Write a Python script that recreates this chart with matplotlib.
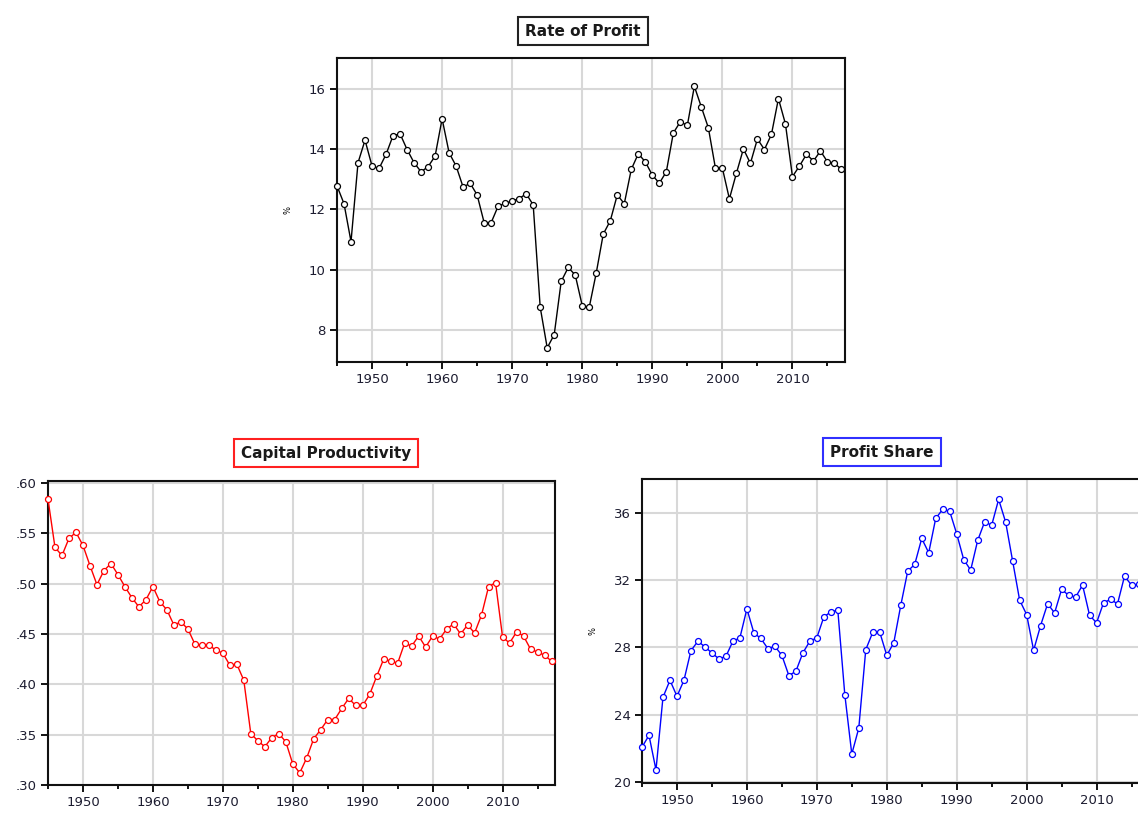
import numpy as np
import matplotlib
matplotlib.use('Agg')
import matplotlib.pyplot as plt
from matplotlib.ticker import MultipleLocator, FuncFormatter

# 年份
years = list(range(1945, 2018))

# Rate of Profit (%)
rate_of_profit = [
    12.78, 12.19, 10.93, 13.55, 14.30, 13.44, 13.36, 13.83, 14.45, 14.51,
    13.99, 13.55, 13.25, 13.42, 13.77, 15.01, 13.88, 13.44, 12.74, 12.87,
    12.48, 11.56, 11.56, 12.11, 12.20, 12.28, 12.36, 12.52, 12.15, 8.75,
    7.40, 7.84, 9.61, 10.07, 9.82, 8.80, 8.75, 9.89, 11.18, 11.62,
    12.48, 12.19, 13.33, 13.85, 13.58, 13.14, 12.87, 13.25, 14.54, 14.91,
    14.79, 16.09, 15.40, 14.71, 13.38, 13.37, 12.35, 13.20, 14.01, 13.53,
    14.34, 13.99, 14.49, 15.68, 14.84, 13.09, 13.44, 13.83, 13.61, 13.94,
    13.58, 13.53, 13.33,
]

# Capital Productivity
capital_productivity = [
    0.584, 0.536, 0.528, 0.545, 0.551, 0.538, 0.518, 0.499, 0.513, 0.520,
    0.509, 0.497, 0.486, 0.477, 0.484, 0.497, 0.482, 0.474, 0.459, 0.462,
    0.455, 0.440, 0.439, 0.439, 0.434, 0.431, 0.419, 0.420, 0.404, 0.351,
    0.344, 0.338, 0.347, 0.351, 0.343, 0.321, 0.312, 0.327, 0.346, 0.355,
    0.365, 0.365, 0.376, 0.386, 0.379, 0.379, 0.390, 0.408, 0.425, 0.423,
    0.421, 0.441, 0.438, 0.448, 0.437, 0.448, 0.445, 0.455, 0.460, 0.450,
    0.459, 0.451, 0.469, 0.497, 0.501, 0.447, 0.441, 0.452, 0.448, 0.435,
    0.432, 0.429, 0.423,
]

# Profit Share (%)
profit_share = [
    22.08, 22.78, 20.73, 25.04, 26.05, 25.10, 26.05, 27.81, 28.37, 28.03,
    27.67, 27.32, 27.47, 28.37, 28.57, 30.29, 28.86, 28.53, 27.93, 28.07,
    27.53, 26.33, 26.58, 27.67, 28.37, 28.57, 29.81, 30.11, 30.21, 25.20,
    21.67, 23.21, 27.87, 28.90, 28.90, 27.53, 28.27, 30.49, 32.53, 32.93,
    34.47, 33.62, 35.66, 36.20, 36.08, 34.75, 33.22, 32.59, 34.35, 35.46,
    35.25, 36.79, 35.44, 33.13, 30.81, 29.95, 27.83, 29.30, 30.59, 30.05,
    31.44, 31.10, 30.98, 31.70, 29.91, 29.46, 30.65, 30.85, 30.59, 32.23,
    31.70, 31.74, 31.65,
]

TICK_COLOR = '#1c1c30'


def style_axes(ax, ylim, ystep, yfmt=None, ylabel=None):
    ax.set_xlim(1945, 2017.5)
    ax.set_ylim(*ylim)
    ax.xaxis.set_major_locator(MultipleLocator(10))
    ax.xaxis.set_minor_locator(MultipleLocator(5))
    ax.yaxis.set_major_locator(MultipleLocator(ystep))
    if yfmt is not None:
        ax.yaxis.set_major_formatter(FuncFormatter(yfmt))
    ax.grid(True, which='major', color='#d8d8d8', lw=1.5)
    ax.set_axisbelow(True)
    for s in ax.spines.values():
        s.set_linewidth(1.5)
        s.set_color('#111111')
    ax.tick_params(axis='both', which='major', length=5, width=1.3,
                   labelsize=9.5, labelcolor=TICK_COLOR, pad=3)
    ax.tick_params(axis='x', which='minor', length=3, width=1.3)
    ax.tick_params(axis='y', which='minor', length=0)
    if ylabel:
        ax.set_ylabel(ylabel, fontsize=6, labelpad=12)


def draw(ax, y, color):
    ax.plot(years, y, color=color, lw=1.0, marker='o', ms=4.3,
            mfc='white', mec=color, mew=0.9, clip_on=False, zorder=3)


fig = plt.figure(figsize=(11.38, 8.13), dpi=100)

# 上方：利润率
ax1 = fig.add_axes([337 / 1138, 1 - 362 / 813, 508 / 1138, 304 / 813])
draw(ax1, rate_of_profit, 'black')
style_axes(ax1, (6.93, 17.03), 2, ylabel='%')

# 左下：资本生产率
ax2 = fig.add_axes([48 / 1138, 1 - 785 / 813, 507 / 1138, 304 / 813])
draw(ax2, capital_productivity, '#ff0000')
style_axes(ax2, (0.30, 0.602), 0.05,
           yfmt=lambda v, p: f'{v:.2f}'.lstrip('0'))

# 右下：利润份额（右边超出画布）
ax3 = fig.add_axes([642 / 1138, 1 - 783 / 813, 507 / 1138, 304 / 813])
draw(ax3, profit_share, '#0000ff')
style_axes(ax3, (19.95, 38.0), 4, ylabel='%')

# 带框的标题
def boxed_title(x, y, text, color):
    fig.text(x / 1138, 1 - y / 813, text, ha='center', va='center',
             fontsize=11, fontweight='bold', color='#1a1a1a',
             bbox=dict(boxstyle='square,pad=0.45', fc='white', ec=color, lw=1.5))

boxed_title(583, 31, 'Rate of Profit', '#222222')
boxed_title(326, 453, 'Capital Productivity', '#ff2020')
boxed_title(882, 452, 'Profit Share', '#3030ff')

plt.savefig('out.png', dpi=100)
